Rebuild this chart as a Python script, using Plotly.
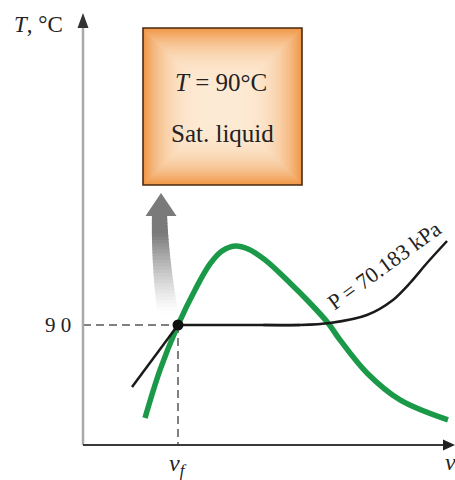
import plotly.graph_objects as go

# Saturation dome of water (schematic): specific volume in units of v_f, temperature in °C
dome_v = [0.653, 0.811, 1.0, 1.179, 1.337, 1.463, 1.6, 1.737, 1.916, 2.179, 2.389, 2.579, 2.705, 2.989, 3.337, 3.842]
dome_T = [20.3, 56.3, 90.0, 116.3, 135.8, 145.5, 149.3, 147.0, 138.8, 121.5, 106.5, 91.5, 78.8, 54.0, 33.8, 18.8]

# Constant-pressure line P = 70.183 kPa: compressed liquid, mixture plateau, superheated vapour
isobar_liq_v = [0.516, 1.0]
isobar_liq_T = [43.5, 90.0]
isobar_mix_v = [1.0, 2.284]
isobar_mix_T = [90.0, 90.0]
isobar_vap_v = [1.9, 2.284, 2.6, 2.989, 3.263, 3.442, 3.621, 3.832]
isobar_vap_T = [90.0, 90.0, 91.5, 97.5, 108.8, 121.5, 136.5, 153.0]

# Saturated-liquid state
state_v = [1.0]
state_T = [90.0]

W, H = 455, 480
OX, OY = 83, 445          # pixel position of the axes origin
SX, SY = 95.0, 4.0 / 3.0  # pixels per unit of v and per °C


def X(px):
    return (px - OX) / SX


def Y(py):
    return (OY - py) / SY


GREEN = "#1a9a48"
SERIF = "Liberation Serif"

fig = go.Figure()

fig.add_trace(go.Scatter(x=dome_v, y=dome_T, mode="lines",
                         line=dict(color=GREEN, width=5.5, shape="spline", smoothing=1.0),
                         hoverinfo="skip"))
for xs, ys, shp in [(isobar_liq_v, isobar_liq_T, "linear"),
                    (isobar_mix_v, isobar_mix_T, "linear"),
                    (isobar_vap_v, isobar_vap_T, "spline")]:
    fig.add_trace(go.Scatter(x=xs, y=ys, mode="lines",
                             line=dict(color="#1a1a1a", width=2.5, shape=shp, smoothing=0.8),
                             hoverinfo="skip"))
fig.add_trace(go.Scatter(x=state_v, y=state_T, mode="markers",
                         marker=dict(color="#111111", size=11), hoverinfo="skip"))

shapes = []

# dashed guides to the axes
shapes.append(dict(type="line", x0=X(OX), y0=state_T[0], x1=state_v[0], y1=state_T[0],
                   line=dict(color="#808080", width=2, dash="8px,5px"), layer="below"))
shapes.append(dict(type="line", x0=state_v[0], y0=state_T[0], x1=state_v[0], y1=Y(OY),
                   line=dict(color="#808080", width=2, dash="8px,5px"), layer="below"))

# T axis (grey shaft, dark head)
shapes.append(dict(type="line", x0=X(OX), y0=Y(OY), x1=X(OX), y1=Y(26),
                   line=dict(color="#a9a9a9", width=2.5)))
shapes.append(dict(type="path",
                   path=f"M {X(83)} {Y(13)} L {X(77.5)} {Y(28)} L {X(88.5)} {Y(28)} Z",
                   fillcolor="#333333", line=dict(width=0)))
# v axis
shapes.append(dict(type="line", x0=X(OX), y0=Y(OY), x1=X(446), y1=Y(OY),
                   line=dict(color="#3a3a3a", width=2)))
shapes.append(dict(type="path",
                   path=f"M {X(455)} {Y(445)} L {X(443)} {Y(439.5)} L {X(443)} {Y(450.5)} Z",
                   fillcolor="#222222", line=dict(width=0)))

# state box with an orange glow fading to a pale centre
bx0, bx1, by0, by1 = 143, 302, 28, 185
edge = (240, 152, 72)
centre = (253, 234, 212)
N = 40
hw, hh = (bx1 - bx0) / 2, (by1 - by0) / 2
for i in range(N):
    f = i / N
    g = 1 - (1 - f) ** 3.2
    col = tuple(int(round(edge[k] + (centre[k] - edge[k]) * g)) for k in range(3))
    ix, iy = f * hw * 0.92, f * hh * 0.92
    shapes.append(dict(type="rect", x0=X(bx0 + ix), x1=X(bx1 - ix), y0=Y(by0 + iy), y1=Y(by1 - iy),
                       fillcolor="rgb(%d,%d,%d)" % col, line=dict(width=0), layer="below"))
shapes.append(dict(type="rect", x0=X(bx0), x1=X(bx1), y0=Y(by0), y1=Y(by1),
                   fillcolor="rgba(0,0,0,0)", line=dict(color="#4a2a12", width=1.6)))

# curved grey arrow fading out towards the state point
P0, P1, P2 = (168.0, 314.0), (160.0, 262.0), (159.5, 214.0)


def bez(t):
    x = (1 - t) ** 2 * P0[0] + 2 * (1 - t) * t * P1[0] + t * t * P2[0]
    y = (1 - t) ** 2 * P0[1] + 2 * (1 - t) * t * P1[1] + t * t * P2[1]
    return x, y


M = 30
for i in range(M):
    t0, t1 = i / M, min(1.0, (i + 1.3) / M)
    (xa, ya), (xb, yb) = bez(t0), bez(t1)
    wa, wb = 21 - 6 * t0, 21 - 6 * t1
    tm = (t0 + t1) / 2
    a = min(1.0, tm * 1.25)
    c = int(round(255 - (255 - 122) * a ** 1.3))
    shapes.append(dict(type="path",
                       path=f"M {X(xa - wa / 2)} {Y(ya)} L {X(xa + wa / 2)} {Y(ya)} "
                            f"L {X(xb + wb / 2)} {Y(yb)} L {X(xb - wb / 2)} {Y(yb)} Z",
                       fillcolor=f"rgb({c},{c},{c})", line=dict(width=0)))
shapes.append(dict(type="path",
                   path=f"M {X(161)} {Y(193)} L {X(145.5)} {Y(216)} L {X(176.5)} {Y(216)} Z",
                   fillcolor="#7a7a7a", line=dict(width=0)))

fig.update_layout(shapes=shapes)

txt = dict(family=SERIF, color="#222222")
ann = [
    dict(x=X(38), y=Y(24), text="<i>T</i>, °C", font=dict(size=23, **txt)),
    dict(x=X(58), y=Y(325), text="9 0", font=dict(size=21, **txt)),
    dict(x=X(178), y=Y(465), text="<i>v</i><sub><i>f</i></sub>", font=dict(size=24, **txt)),
    dict(x=X(450), y=Y(462), text="<i>v</i>", font=dict(size=24, **txt)),
    dict(x=X(221), y=Y(82), text="<i>T</i> = 90°C", font=dict(size=25, **txt)),
    dict(x=X(222), y=Y(133), text="Sat. liquid", font=dict(size=25, **txt)),
    dict(x=X(384), y=Y(265), text="P = 70.183 kPa", textangle=-36, font=dict(size=22, **txt)),
]
for a in ann:
    a.update(showarrow=False, xref="x", yref="y", xanchor="center", yanchor="middle")
fig.update_layout(annotations=ann)

fig.update_layout(
    width=W, height=H,
    margin=dict(l=0, r=0, t=0, b=0),
    paper_bgcolor="white", plot_bgcolor="white",
    showlegend=False,
    xaxis=dict(range=[X(0), X(W)], visible=False, fixedrange=True),
    yaxis=dict(range=[Y(H), Y(0)], visible=False, fixedrange=True),
)

fig.write_html("out.html")
